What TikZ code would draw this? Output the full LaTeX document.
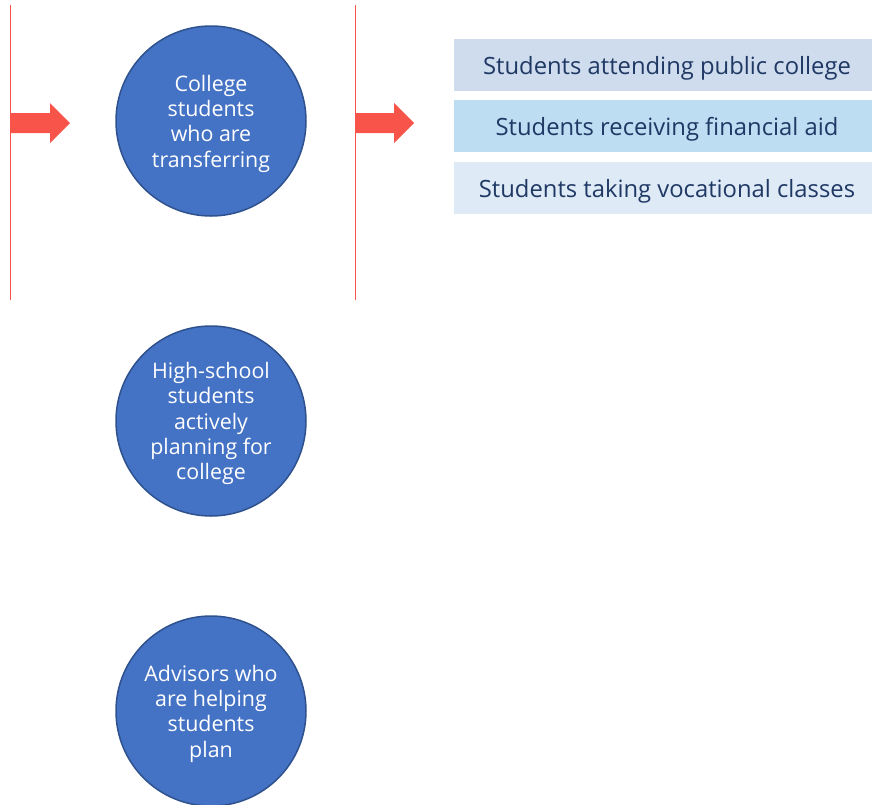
\documentclass[tikz,border=0pt]{standalone}
\usepackage{fontspec}
\setmainfont{Open Sans}
\definecolor{circfill}{HTML}{4472C4}
\definecolor{circline}{HTML}{2F528F}
\definecolor{arrred}{HTML}{F8544A}
\definecolor{boxa}{HTML}{CFDCEE}
\definecolor{boxb}{HTML}{BDDDF3}
\definecolor{boxc}{HTML}{DEEAF6}
\definecolor{boxtext}{HTML}{1F3864}
\tikzset{
  group/.style={circle, fill=circfill, draw=circline, line width=1.5pt,
    minimum size=190pt, inner sep=0pt, text=white, align=center,
    text depth=0pt, font=\fontsize{21.4}{25.4}\selectfont},
  tag/.style={rectangle, minimum width=418pt, minimum height=52pt,
    inner sep=0pt, text=boxtext, text height=18pt, text depth=0pt,
    font=\fontsize{23.8}{26}\selectfont}
}
\begin{document}
\begin{tikzpicture}[x=1pt, y=-1pt]
  \useasboundingbox (0,0) rectangle (872,804);
  % separators
  \draw[arrred, line width=1pt] (10,5) -- (10,300);
  \draw[arrred, line width=1pt] (355,5) -- (355,300);
  % block arrows
  \fill[arrred] (10,113) -- (50,113) -- (50,103) -- (70,123) -- (50,143) -- (50,133) -- (10,133) -- cycle;
  \fill[arrred] (355,113) -- (394,113) -- (394,103) -- (414,123) -- (394,143) -- (394,133) -- (355,133) -- cycle;
  % audience circles
  \node[group] (college) at (211,121) {College\\students\\who are\\transferring};
  \node[group] (highschool) at (211,421) {High-school\\students\\actively\\planning for\\college};
  \node[group] (advisors) at (211,711) {Advisors who\\are helping\\students\\plan};
  % segments
  \node[tag, fill=boxa] (public) at (663,65) {\hspace*{8pt}Students attending public college};
  \node[tag, fill=boxb] (aid) at (663,126) {\hspace*{8pt}Students receiving financial aid};
  \node[tag, fill=boxc] (vocational) at (663,188) {\hspace*{8pt}Students taking vocational classes};
\end{tikzpicture}
\end{document}
